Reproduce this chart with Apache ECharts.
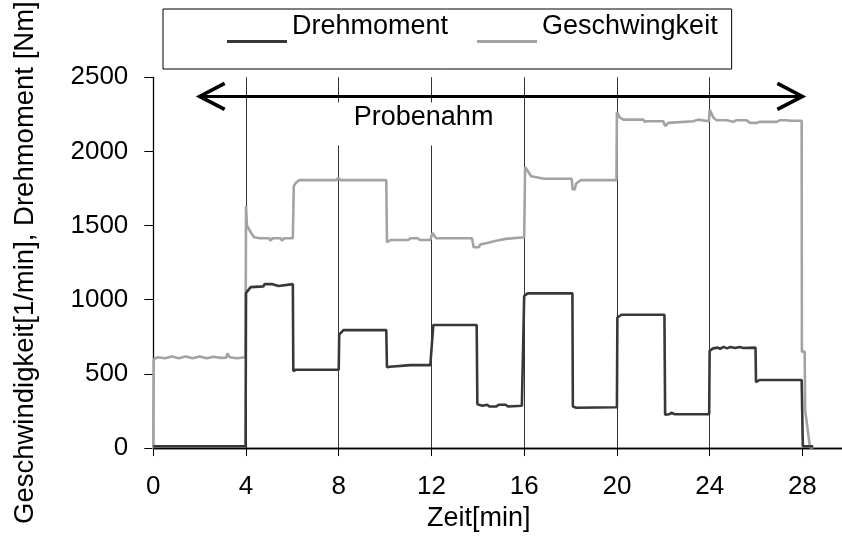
<!DOCTYPE html>
<html><head><meta charset="utf-8">
<script src="https://cdn.jsdelivr.net/npm/echarts/dist/echarts.min.js"></script>
<style>html,body{margin:0;padding:0;background:#fff}#c{width:842px;height:537px}</style>
</head><body><div id="c"></div>
<script>
const FONT = "'Liberation Sans', Arial, Helvetica, sans-serif";
const seriesNames = ['Drehmoment', 'Geschwingkeit'];
const xAxisTitle = 'Zeit[min]';
const yAxisTitle = 'Geschwindigkeit[1/min], Drehmoment [Nm]';
const annotationText = 'Probenahm';
const xTickValues = [0, 4, 8, 12, 16, 20, 24, 28];
const yTickValues = [0, 500, 1000, 1500, 2000, 2500];
// [Zeit (min), Wert]
const drehmoment = [
  [0,12],[3.98,12],[4.0,1045],[4.2,1085],[4.75,1090],[4.8,1105],[5.15,1105],[5.22,1092],[5.4,1092],[5.45,1105],[6.02,1105],
  [6.04,520],[6.15,528],[8.0,528],[8.02,765],[8.2,795],[8.6,795],[8.65,782],[8.75,795],[9.55,795],[9.6,782],[9.7,795],[10.05,795],
  [10.08,545],[10.2,548],[10.25,559],[11.1,559],[11.15,572],[11.3,559],[11.95,559],[12.08,830],[13.95,830],
  [13.98,295],[14.2,285],[14.4,292],[14.5,280],[14.8,280],[14.9,292],[15.2,292],[15.3,280],[15.9,285],
  [16.0,1025],[16.15,1043],[17.0,1043],[17.05,1030],[17.15,1043],[18.08,1043],[18.1,280],[18.25,272],[20.0,275],
  [20.02,880],[20.2,899],[22.05,899],[22.08,225],[22.25,228],[22.35,238],[22.5,228],[23.4,228],[23.45,238],[23.55,228],[23.98,228],
  [24.0,655],[24.15,672],[24.35,677],[24.45,668],[24.6,682],[24.75,672],[24.9,682],[25.1,675],[25.3,682],[25.45,675],[25.98,677],
  [26.0,445],[26.15,459],[27.97,459],[28.02,12],[28.47,12]
];
const geschwindigkeit = [
  [-1.57,5],[0,5],[0.02,600],[0.2,612],[0.5,606],[0.8,618],[1.1,606],[1.4,618],[1.7,606],[2.0,618],[2.3,606],[2.6,616],[2.9,608],
  [3.15,610],[3.2,638],[3.3,612],[3.6,606],[3.98,612],
  [4.0,1632],[4.04,1500],[4.2,1455],[4.35,1421],[4.6,1414],[5.0,1414],[5.05,1399],[5.15,1414],[5.5,1414],[5.55,1399],[5.65,1414],[6.02,1414],
  [6.06,1766],[6.15,1788],[6.3,1806],[7.9,1806],[7.98,1821],[8.1,1806],[10.05,1806],
  [10.08,1388],[10.25,1403],[11.0,1403],[11.1,1414],[11.4,1414],[11.5,1403],[11.95,1403],[12.05,1450],[12.2,1414],[13.75,1414],
  [13.82,1354],[14.05,1354],[14.1,1372],[14.4,1383],[14.8,1398],[15.2,1410],[16.0,1421],
  [16.04,1895],[16.3,1832],[16.87,1815],[18.05,1815],[18.09,1743],[18.18,1743],[18.24,1783],[18.45,1806],[19.98,1806],
  [20.0,2266],[20.13,2228],[20.28,2214],[21.14,2214],[21.2,2199],[21.29,2203],[22.0,2203],[22.08,2170],[22.22,2192],[22.29,2203],
  [23.3,2203],[23.37,2214],[23.51,2214],[23.58,2203],[23.97,2203],
  [24.0,2281],[24.16,2228],[24.3,2210],[24.73,2210],[24.8,2199],[25.02,2199],[25.16,2210],[25.59,2210],[25.74,2192],[26.03,2192],
  [26.17,2199],[26.89,2199],[27.03,2210],[27.32,2210],[27.47,2206],[27.97,2206],
  [27.98,650],[28.1,650],[28.12,255],[28.33,5],[28.47,5]
];
// arrow: [start time, end time, level]
const arrowSpan = [[2, 28, 2370]];
// annotation anchor: [time, level]
const annotationAnchor = [[11.66, 2330]];

const chart = echarts.init(document.getElementById('c'), null, {renderer: 'canvas'});
const xMin = xTickValues[0], xStep = xTickValues[1] - xTickValues[0];
const yMin = yTickValues[0], yMax = yTickValues[yTickValues.length - 1], yStep = yTickValues[1] - yTickValues[0];
const xMaxExtent = 29.71;

chart.setOption({
  animation: false,
  backgroundColor: '#fff',
  textStyle: {fontFamily: FONT, color: '#000'},
  grid: {left: 153.3, right: 0, top: 76.5, bottom: 85.5, containLabel: false},
  legend: {
    data: seriesNames,
    left: 163, top: 9,
    orient: 'horizontal',
    borderColor: '#000', borderWidth: 1,
    padding: [1, 14, 26, 64],
    itemGap: 29,
    itemWidth: 60, itemHeight: 33,
    icon: 'path://M0,0h0.05v0.05h-0.05z M0,30h60v3h-60z',
    itemStyle: {borderWidth: 0},
    textStyle: {fontFamily: FONT, fontSize: 27, color: '#000'}
  },
  xAxis: [{
    type: 'value', min: xMin, max: xMaxExtent, interval: xStep,
    name: xAxisTitle, nameLocation: 'middle', nameGap: 52,
    nameTextStyle: {fontFamily: FONT, fontSize: 27, color: '#000', padding: [0, 38, 0, 0]},
    axisLine: {show: true, onZero: false, lineStyle: {color: '#000', width: 1.3}},
    axisTick: {show: true, inside: false, length: 8, lineStyle: {color: '#000', width: 1},
      customValues: xTickValues},
    axisLabel: {fontFamily: FONT, fontSize: 26, color: '#000', margin: 26,
      customValues: xTickValues, formatter: v => String(v)},
    splitLine: {show: true, showMaxLine: false, lineStyle: {color: '#333', width: 1}}
  }, {
    type: 'value', position: 'top', min: xMin, max: xMaxExtent,
    axisLine: {show: true, lineStyle: {color: '#000', width: 1.3}},
    axisTick: {show: false}, axisLabel: {show: false}, splitLine: {show: false}
  }],
  yAxis: {
    type: 'value', min: yMin, max: yMax, interval: yStep,
    name: yAxisTitle, nameLocation: 'middle', nameGap: 114,
    nameTextStyle: {fontFamily: FONT, fontSize: 27.5, color: '#000'},
    axisLine: {show: true, lineStyle: {color: '#000', width: 1.3}},
    axisTick: {show: true, inside: false, length: 9, lineStyle: {color: '#000', width: 1}},
    axisLabel: {fontFamily: FONT, fontSize: 26, color: '#000', margin: 25, formatter: v => String(v)},
    splitLine: {show: false}
  },
  series: [
    {
      name: seriesNames[0], type: 'line', data: drehmoment, showSymbol: false, symbol: 'none',
      lineStyle: {color: '#383838', width: 2.6}, itemStyle: {color: '#383838'}, z: 3
    },
    {
      name: seriesNames[1], type: 'line', data: geschwindigkeit, showSymbol: false, symbol: 'none', clip: false,
      lineStyle: {color: '#a3a3a3', width: 2.6}, itemStyle: {color: '#a3a3a3'}, z: 2
    },
    {
      type: 'custom', data: arrowSpan, encode: {x: [0, 1], y: 2}, silent: true, z: 6, clip: false,
      renderItem(params, api) {
        const p1 = api.coord([api.value(0), api.value(2)]);
        const p2 = api.coord([api.value(1), api.value(2)]);
        const L = 25, H = 13;
        return {type: 'group', children: [
          {type: 'line', shape: {x1: p1[0] + 1, y1: p1[1], x2: p2[0] - 1, y2: p2[1]}, style: {stroke: '#000', lineWidth: 3}},
          {type: 'polyline', shape: {points: [[p1[0] + L, p1[1] - H], [p1[0], p1[1]], [p1[0] + L, p1[1] + H]]},
            style: {stroke: '#000', lineWidth: 3.6, fill: null, lineJoin: 'miter'}},
          {type: 'polyline', shape: {points: [[p2[0] - L, p2[1] - H], [p2[0], p2[1]], [p2[0] - L, p2[1] + H]]},
            style: {stroke: '#000', lineWidth: 3.6, fill: null, lineJoin: 'miter'}}
        ]};
      }
    },
    {
      type: 'custom', data: annotationAnchor, encode: {x: 0, y: 1}, silent: true, z: 5, clip: false,
      renderItem(params, api) {
        const p = api.coord([api.value(0), api.value(1)]);
        return {type: 'text', x: p[0], y: p[1], style: {
          text: annotationText, fontFamily: FONT, fontSize: 27, fill: '#000',
          align: 'center', verticalAlign: 'top', lineHeight: 30,
          backgroundColor: '#fff', padding: [0, 18, 13, 18]
        }};
      }
    }
  ]
});
</script></body></html>
